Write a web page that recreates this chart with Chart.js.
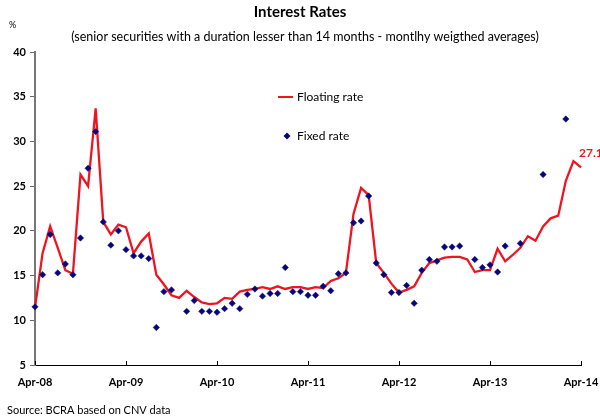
<!DOCTYPE html>
<html>
<head>
<meta charset="utf-8">
<script src="https://cdn.jsdelivr.net/npm/chart.js@4"></script>
<style>
  html, body { margin: 0; padding: 0; background: #fff; }
  #wrap { width: 600px; height: 420px; }
</style>
</head>
<body>
<div id="wrap"><canvas id="ratesChart" width="600" height="420"></canvas></div>
<script>
// monthly, Apr-08 .. Apr-14
const monthNames = ["Apr", "May", "Jun", "Jul", "Aug", "Sep", "Oct", "Nov", "Dec", "Jan", "Feb", "Mar"];
const tickLabels = ["Apr-08", "Apr-09", "Apr-10", "Apr-11", "Apr-12", "Apr-13", "Apr-14"];

const floatingRate = [
    11.4, 17.5, 20.5, 18.1, 15.6, 15.2, 26.3, 25.0, 33.7, 21.0, 19.6, 20.7,
    20.4, 17.5, 18.8, 19.7, 15.1, 14.0, 12.8, 12.5, 13.3, 12.6, 12.0, 11.8,
    11.9, 12.5, 12.4, 13.2, 13.4, 13.5, 13.7, 13.5, 13.8, 13.5, 13.7, 13.7,
    13.5, 13.7, 13.6, 14.4, 14.7, 15.3, 21.9, 24.8, 24.0, 16.4, 15.3, 14.1,
    13.1, 13.4, 13.8, 15.3, 16.4, 16.7, 17.0, 17.1, 17.1, 16.8, 15.4, 15.6,
    15.6, 18.0, 16.6, 17.3, 18.1, 19.4, 18.9, 20.5, 21.4, 21.7, 25.6, 27.8,
    27.1
];

const fixedRate = [
    11.5, 15.1, 19.6, 15.3, 16.3, 15.1, 19.2, 27.0, 31.1, 21.0, 18.4, 20.0,
    17.9, 17.2, 17.2, 16.9, 9.2, 13.2, 13.4, null, 11.0, 12.2, 11.0, 11.0,
    10.9, 11.3, 11.9, 11.3, 12.9, 13.5, 12.7, 13.0, 13.0, 15.9, 13.2, 13.2,
    12.8, 12.8, 13.8, 13.3, 15.2, 15.3, 20.9, 21.1, 23.9, 16.4, 15.1, 13.1,
    13.1, 13.9, 11.9, 15.6, 16.8, 16.6, 18.2, 18.2, 18.3, null, 16.8, 15.9,
    16.2, 15.4, 18.3, null, 18.6, null, null, 26.3, null, null, 32.5, null,
    null
];

// category labels, one per month
const months = [];
for (let i = 0; i < floatingRate.length; i++) {
    const yr = 8 + Math.floor(i / 12);
    months.push(monthNames[i % 12] + "-" + String(yr + (i % 12 >= 9 ? 1 : 0)).padStart(2, "0"));
}

const red = "#f01420";
const navy = "#06067a";
const font = "Lato, 'Open Sans', sans-serif";

// titles, legend, last value label, inward x ticks
const decorations = {
    id: "decorations",
    afterDraw(chart) {
        const ctx = chart.ctx;
        const x = chart.scales.x;
        const area = chart.chartArea;
        ctx.save();

        ctx.strokeStyle = "#000";
        ctx.lineWidth = 1;
        for (let i = 0; i < months.length; i += 12) {
            const px = Math.round(x.getPixelForValue(i)) + 0.5;
            ctx.beginPath();
            ctx.moveTo(px, area.bottom);
            ctx.lineTo(px, area.bottom - 4);
            ctx.stroke();
        }

        ctx.fillStyle = "#000";
        ctx.textBaseline = "middle";
        ctx.textAlign = "center";
        ctx.font = "bold 15px " + font;
        ctx.fillText("Interest Rates", 300, 12);
        ctx.font = "12.5px " + font;
        ctx.fillText("(senior securities with a duration lesser than 14 months - montlhy weigthed averages)", 305, 37);

        ctx.textAlign = "left";
        ctx.font = "9px " + font;
        ctx.fillText("%", 9, 25);
        ctx.font = "11px " + font;
        ctx.fillText("Source: BCRA based on CNV data", 7, 410);

        // legend
        ctx.font = "12px " + font;
        ctx.strokeStyle = red;
        ctx.lineWidth = 2;
        ctx.beginPath();
        ctx.moveTo(278, 97);
        ctx.lineTo(293, 97);
        ctx.stroke();
        ctx.fillText("Floating rate", 297, 97);
        ctx.fillStyle = navy;
        ctx.beginPath();
        ctx.moveTo(287, 132.5);
        ctx.lineTo(290.5, 136);
        ctx.lineTo(287, 139.5);
        ctx.lineTo(283.5, 136);
        ctx.closePath();
        ctx.fill();
        ctx.fillStyle = "#000";
        ctx.fillText("Fixed rate", 297, 136);

        // last value
        const last = floatingRate.length - 1;
        const ly = chart.scales.y.getPixelForValue(floatingRate[last]);
        ctx.fillStyle = red;
        ctx.font = "bold 12px " + font;
        ctx.fillText(floatingRate[last].toFixed(1), x.getPixelForValue(last) - 2, ly - 14);

        ctx.restore();
    }
};

const ratesChart = new Chart(document.getElementById("ratesChart").getContext("2d"), {
    type: "line",
    data: {
        labels: months,
        datasets: [
            {
                label: "Floating rate",
                data: floatingRate,
                borderColor: red,
                borderWidth: 2.3,
                pointRadius: 0,
                tension: 0,
                fill: false,
                order: 2,
            },
            {
                label: "Fixed rate",
                data: fixedRate,
                showLine: false,
                pointStyle: "rectRot",
                pointRadius: 3.2,
                backgroundColor: navy,
                borderColor: navy,
                borderWidth: 0.5,
                order: 1,
            },
        ],
    },
    options: {
        responsive: false,
        animation: false,
        devicePixelRatio: 1,
        layout: {
            padding: { left: 0, right: 19, top: 52, bottom: 22 },
        },
        plugins: {
            legend: { display: false },
            tooltip: { enabled: false },
        },
        scales: {
            x: {
                offset: false,
                afterFit(scale) {
                    scale.height = 33;
                    scale.paddingLeft = 0;
                    scale.paddingRight = 0;
                },
                grid: { display: false, drawTicks: false },
                border: { display: true, color: "#000", width: 1 },
                ticks: {
                    autoSkip: false,
                    maxRotation: 0,
                    padding: 11,
                    color: "#000",
                    font: { family: font, size: 11, weight: "bold" },
                    callback: function (value, index) {
                        return index % 12 === 0 ? tickLabels[index / 12] : "";
                    },
                },
            },
            y: {
                min: 5,
                max: 40,
                afterFit(scale) { scale.width = 35; },
                grid: { drawOnChartArea: false, tickLength: 5, color: "#666" },
                border: { display: true, color: "#777", width: 2 },
                ticks: {
                    stepSize: 5,
                    padding: 4,
                    color: "#000",
                    font: { family: font, size: 11, weight: "bold" },
                },
            },
        },
    },
    plugins: [decorations],
});
</script>
</body>
</html>
